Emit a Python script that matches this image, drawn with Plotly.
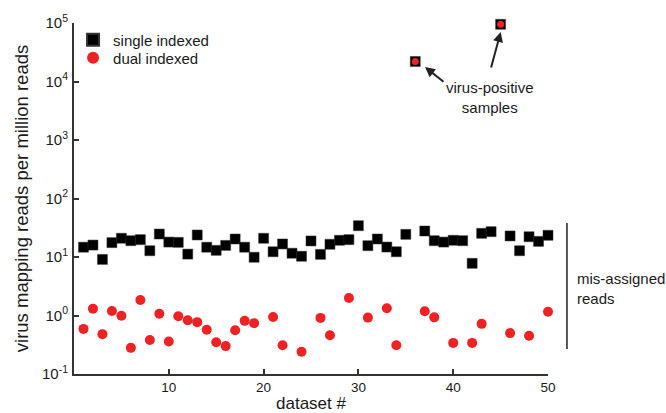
import plotly.graph_objects as go

dataset = list(range(1, 51))
single_indexed = [14.7, 16, 9.1, 17.6, 20.9, 19, 19.8, 12.8, 24.7, 18,
                  17.8, 11.2, 23.8, 14.7, 13, 15.8, 20.3, 14.7, 9.9, 20.9,
                  12.3, 16.7, 11.6, 10.3, 18.8, 11.1, 16.5, 19.3, 19.8, 34.3,
                  15.6, 20.3, 14.8, 12.3, 24.4, 22000, 27.8, 19, 18, 19.3,
                  19, 7.8, 25.4, 27.1, 95000, 22.9, 12.8, 22.2, 18.5, 23.5]
dual_indexed = [0.59, 1.31, 0.48, 1.19, 0.99, 0.28, 1.84, 0.38, 1.07, 0.36,
                0.97, 0.83, 0.77, 0.57, 0.35, 0.30, 0.56, 0.81, 0.74, None,
                0.94, 0.31, None, 0.24, None, 0.91, 0.46, None, 1.99, None,
                0.92, None, 1.33, 0.31, None, 22000, 1.18, 0.93, None, 0.34,
                None, 0.34, 0.72, None, 95000, 0.50, None, 0.45, None, 1.16]
y_tickvals = [0.1, 1, 10, 100, 1000, 10000, 100000]
y_ticktext = ["10<sup>-1</sup>", "10<sup>0</sup>", "10<sup>1</sup>", "10<sup>2</sup>",
              "10<sup>3</sup>", "10<sup>4</sup>", "10<sup>5</sup>"]
x_tickvals = [10, 20, 30, 40, 50]

FONT = "Liberation Sans, Arial, Helvetica, sans-serif"
TXT = "#1a1a1a"

dual_sizes = [7 if (v is not None and v > 1000) else 10 for v in dual_indexed]

fig = go.Figure()
fig.add_trace(go.Scatter(
    x=dataset, y=single_indexed, mode="markers", name="single indexed",
    legend="legend", cliponaxis=False,
    marker=dict(symbol="square", size=10, color="black", opacity=1,
                line=dict(width=0.5, color="#333"))))
fig.add_trace(go.Scatter(
    x=dataset, y=dual_indexed, mode="markers", name="dual indexed",
    legend="legend2", cliponaxis=False,
    marker=dict(symbol="circle", size=dual_sizes, color="#ee2222", opacity=1,
                line=dict(width=0))))

legend_common = dict(xanchor="left", yanchor="middle", bgcolor="rgba(0,0,0,0)",
                     font=dict(size=15, color=TXT), itemsizing="constant")

fig.update_layout(
    width=666, height=413,
    margin=dict(l=74, r=118, t=23, b=39),
    paper_bgcolor="white", plot_bgcolor="white",
    font=dict(family=FONT, color=TXT, size=13),
    showlegend=True,
    legend=dict(x=-0.002, y=0.9516, **legend_common),
    legend2=dict(x=-0.002, y=0.9003, **legend_common),
    xaxis=dict(range=[0, 50], tickvals=x_tickvals, showgrid=False, zeroline=False,
               automargin=False,
               showline=True, linecolor="#333", linewidth=2,
               ticks="inside", ticklen=5, tickwidth=1.5, tickcolor="#333",
               ticklabelstandoff=0,
               tickfont=dict(size=13.5, color=TXT),
               title=dict(text="dataset #", font=dict(size=17, color=TXT), standoff=4)),
    yaxis=dict(type="log", range=[-1, 5], tickvals=y_tickvals, ticktext=y_ticktext,
               showgrid=False, zeroline=False, automargin=False,
               showline=True, linecolor="#333", linewidth=2,
               ticks="inside", ticklen=5, tickwidth=1.5, tickcolor="#333",
               ticklabelstandoff=1,
               tickfont=dict(size=15, color=TXT),
               title=dict(text="virus mapping reads per million reads",
                          font=dict(size=18.5, color=TXT), standoff=8)),
)

annotations = [
    dict(x=0.8776, y=0.789, xref="paper", yref="paper", showarrow=False,
         text="virus-positive<br>samples", font=dict(size=15, color=TXT),
         align="center", xanchor="center", yanchor="middle"),
    dict(x=0.7405, y=0.8746, xref="paper", yref="paper", text="", showarrow=True,
         ax=20, ay=16, arrowhead=2, arrowsize=1, arrowwidth=2, arrowcolor="#222"),
    dict(x=0.9002, y=0.9744, xref="paper", yref="paper", text="", showarrow=True,
         ax=-10, ay=37, arrowhead=2, arrowsize=1, arrowwidth=2, arrowcolor="#222"),
    dict(x=1.057, y=0.245, xref="paper", yref="paper", showarrow=False,
         text="mis-assigned<br>reads", font=dict(size=15, color=TXT),
         align="left", xanchor="left", yanchor="middle"),
]
fig.update_layout(annotations=annotations)
fig.add_shape(type="line", xref="paper", yref="paper", x0=1.040, x1=1.040,
              y0=0.071, y1=0.430, line=dict(color="#222", width=1.5))

fig.write_html("out.html", config={"displayModeBar": False},
               post_script="document.body.style.margin='0';")
